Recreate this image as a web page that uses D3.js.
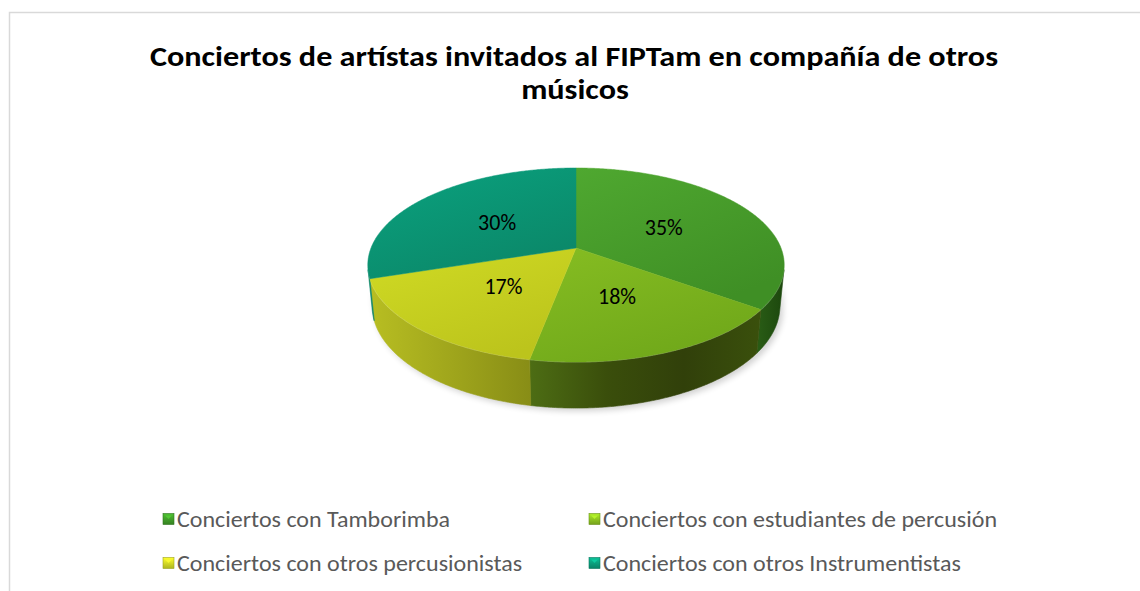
<!DOCTYPE html>
<html>
<head>
<meta charset="utf-8">
<script src="https://cdn.jsdelivr.net/npm/d3@7"></script>
<style>
  html, body { margin: 0; padding: 0; background: #ffffff; }
  svg { display: block; }
</style>
</head>
<body>
<svg id="chart" width="1140" height="591"></svg>
<script>
// ---------- data ----------
const categories = [
  "Conciertos con Tamborimba",
  "Conciertos con estudiantes de percusión",
  "Conciertos con otros percusionistas",
  "Conciertos con otros Instrumentistas"
];
const values = [35, 18, 17, 30];
const valueLabels = ["35%", "18%", "17%", "30%"];
const titleLines = ["Conciertos de artístas invitados al FIPTam en compañía de otros", "músicos"];

// ---------- styles ----------
const topColors = [
  ["#4fa830", "#3f8f25"],
  ["#86bd22", "#70a81a"],
  ["#d0db24", "#bcc41c"],
  ["#0aa27f", "#0b8869"]
];
const wallColors = [
  ["#2a5d16", "#1c470d"],
  ["#4d6d14", "#3a4e0b", "#31400a", "#3a500c"],
  ["#b8be22", "#a0a61c", "#888d16"],
  ["#0c8a6b", "#0b8066"]
];
const legendColors = ["#3f9a28", "#8cc021", "#cfd824", "#0a9b7a"];
const fontStack = "Carlito, 'Liberation Sans Narrow', Calibri, Roboto, 'DejaVu Sans Condensed', sans-serif";

const svg = d3.select("#chart");
const defs = svg.append("defs");

// chart border
svg.append("rect")
  .attr("x", 9.5).attr("y", 12.5)
  .attr("width", 1140).attr("height", 600)
  .attr("fill", "none").attr("stroke", "#d9d9d9").attr("stroke-width", 1.5);

// ---------- title ----------
const title = svg.append("g");
const t1 = title.append("text")
  .attr("x", 574).attr("y", 66)
  .attr("text-anchor", "middle")
  .style("font-family", fontStack).style("font-weight", "bold")
  .style("font-size", "28px").attr("fill", "#000")
  .text(titleLines[0]);
const nat1 = t1.node().getComputedTextLength();
const tFactor = 848 / nat1;
t1.attr("textLength", 848).attr("lengthAdjust", "spacingAndGlyphs");
const t2 = title.append("text")
  .attr("x", 575).attr("y", 99)
  .attr("text-anchor", "middle")
  .style("font-family", fontStack).style("font-weight", "bold")
  .style("font-size", "28px").attr("fill", "#000")
  .text(titleLines[1]);
const nat2 = t2.node().getComputedTextLength();
t2.attr("textLength", nat2 * tFactor).attr("lengthAdjust", "spacingAndGlyphs");

// ---------- 3D projection ----------
const cx = 576, cy = 248;
const phi = Math.asin(0.4587);
const sinP = Math.sin(phi), cosP = Math.cos(phi);
const Dist = 5.07;
const focal = 205 * Dist;
const depth = 0.2265;

function proj(theta, r, Y) {
  const X = r * Math.sin(theta);
  const Z = -r * Math.cos(theta);
  const yc = Y * cosP - Z * sinP;
  const dc = Dist - (Z * cosP + Y * sinP);
  return [cx + focal * X / dc, cy - focal * yc / dc];
}

const pie = d3.pie().sort(null).startAngle(0).endAngle(2 * Math.PI).value(d => d);
const arcs = pie(values);

const visMin = Math.acos(-1 / (Dist * cosP));       // silhouette angles
const visMax = 2 * Math.PI - visMin;

function arcPoints(a0, a1, Y) {
  const n = Math.max(2, Math.ceil((a1 - a0) / (Math.PI / 360)));
  const pts = [];
  for (let i = 0; i <= n; i++) {
    const a = a0 + (a1 - a0) * i / n;
    pts.push(proj(a, 1, Y));
  }
  return pts;
}

// shadow filter
const shadow = defs.append("filter").attr("id", "shadow")
  .attr("x", "-10%").attr("y", "-10%").attr("width", "120%").attr("height", "130%");
shadow.append("feGaussianBlur").attr("stdDeviation", 3);

const pieG = svg.append("g");

// soft shadow below the pie
const shadowPts = arcPoints(visMin, visMax, -depth).map(p => [p[0] + 3, p[1] + 3]);
pieG.append("path")
  .attr("d", d3.line()(shadowPts.concat(arcPoints(visMin, visMax, -depth * 0.3).reverse())) + "Z")
  .attr("fill", "#000").attr("opacity", 0.18).attr("filter", "url(#shadow)");

// walls
arcs.forEach((d, i) => {
  const a0 = Math.max(d.startAngle, visMin);
  const a1 = Math.min(d.endAngle, visMax);
  if (a1 <= a0) return;
  const topPts = arcPoints(a0, a1, 0);
  const botPts = arcPoints(a0, a1, -depth);
  const xs = topPts.concat(botPts).map(p => p[0]);
  const x0 = d3.min(xs), x1 = d3.max(xs);
  const gid = "wall" + i;
  const g = defs.append("linearGradient").attr("id", gid)
    .attr("gradientUnits", "userSpaceOnUse")
    .attr("x1", x0).attr("y1", 0).attr("x2", x1).attr("y2", 0);
  const cols = wallColors[i];
  cols.forEach((c, k) => g.append("stop").attr("offset", k / (cols.length - 1)).attr("stop-color", c));
  pieG.append("path")
    .attr("d", d3.line()(topPts.concat(botPts.reverse())) + "Z")
    .attr("fill", `url(#${gid})`)
    .attr("stroke", `url(#${gid})`).attr("stroke-width", 0.6);
  // highlight on upper edge
  pieG.append("path")
    .attr("d", d3.line()(topPts))
    .attr("fill", "none").attr("stroke", "#ffffff").attr("stroke-opacity", 0.25).attr("stroke-width", 1.2);
});

// top faces
arcs.forEach((d, i) => {
  const pts = [proj(0, 0, 0)].concat(arcPoints(d.startAngle, d.endAngle, 0));
  const gid = "top" + i;
  const g = defs.append("linearGradient").attr("id", gid)
    .attr("x1", 0).attr("y1", 0).attr("x2", 0.6).attr("y2", 1);
  g.append("stop").attr("offset", 0).attr("stop-color", topColors[i][0]);
  g.append("stop").attr("offset", 1).attr("stop-color", topColors[i][1]);
  pieG.append("path")
    .attr("d", d3.line()(pts) + "Z")
    .attr("fill", `url(#${gid})`)
    .attr("stroke", `url(#${gid})`).attr("stroke-width", 0.5);
});

// value labels
arcs.forEach((d, i) => {
  const mid = (d.startAngle + d.endAngle) / 2;
  const p = proj(mid, 0.5, 0);
  pieG.append("text")
    .attr("x", p[0]).attr("y", p[1] + 8)
    .attr("text-anchor", "middle")
    .style("font-family", fontStack).style("font-size", "22px")
    .attr("fill", "#000")
    .text(valueLabels[i]);
});

// ---------- legend ----------
const legendX = [163, 589];
const legendY = [519, 563];
const legend = svg.append("g");
let lFactor = null;
categories.forEach((c, i) => {
  const col = i % 2, row = Math.floor(i / 2);
  const x = legendX[col], y = legendY[row];
  const lg = defs.append("linearGradient").attr("id", "leg" + i)
    .attr("x1", 0).attr("y1", 0).attr("x2", 0).attr("y2", 1);
  lg.append("stop").attr("offset", 0).attr("stop-color", d3.color(legendColors[i]).brighter(0.6));
  lg.append("stop").attr("offset", 1).attr("stop-color", d3.color(legendColors[i]).darker(0.5));
  legend.append("rect")
    .attr("x", x).attr("y", y - 5.5).attr("width", 11).attr("height", 11)
    .attr("fill", `url(#leg${i})`)
    .attr("stroke", d3.color(legendColors[i]).darker(0.8)).attr("stroke-width", 0.6);
  legend.append("path")
    .attr("d", `M${x + 2},${y - 3.5} L${x + 5.5},${y} L${x + 9},${y - 3.5} Z`)
    .attr("fill", d3.color(legendColors[i]).brighter(0.9)).attr("opacity", 0.7);
  const t = legend.append("text")
    .attr("x", x + 14).attr("y", y + 7.5)
    .style("font-family", fontStack).style("font-size", "21.5px")
    .attr("fill", "#595959")
    .text(c);
  t.attr("data-nat", t.node().getComputedTextLength());
});
// compress legend text to match reference widths (based on longest entry)
const legTexts = legend.selectAll("text");
const natLong = +legTexts.filter((d, i) => i === 1).attr("data-nat");
lFactor = 394 / natLong;
legTexts.each(function() {
  const n = +this.getAttribute("data-nat");
  d3.select(this).attr("textLength", n * lFactor).attr("lengthAdjust", "spacingAndGlyphs");
});
</script>
</body>
</html>
